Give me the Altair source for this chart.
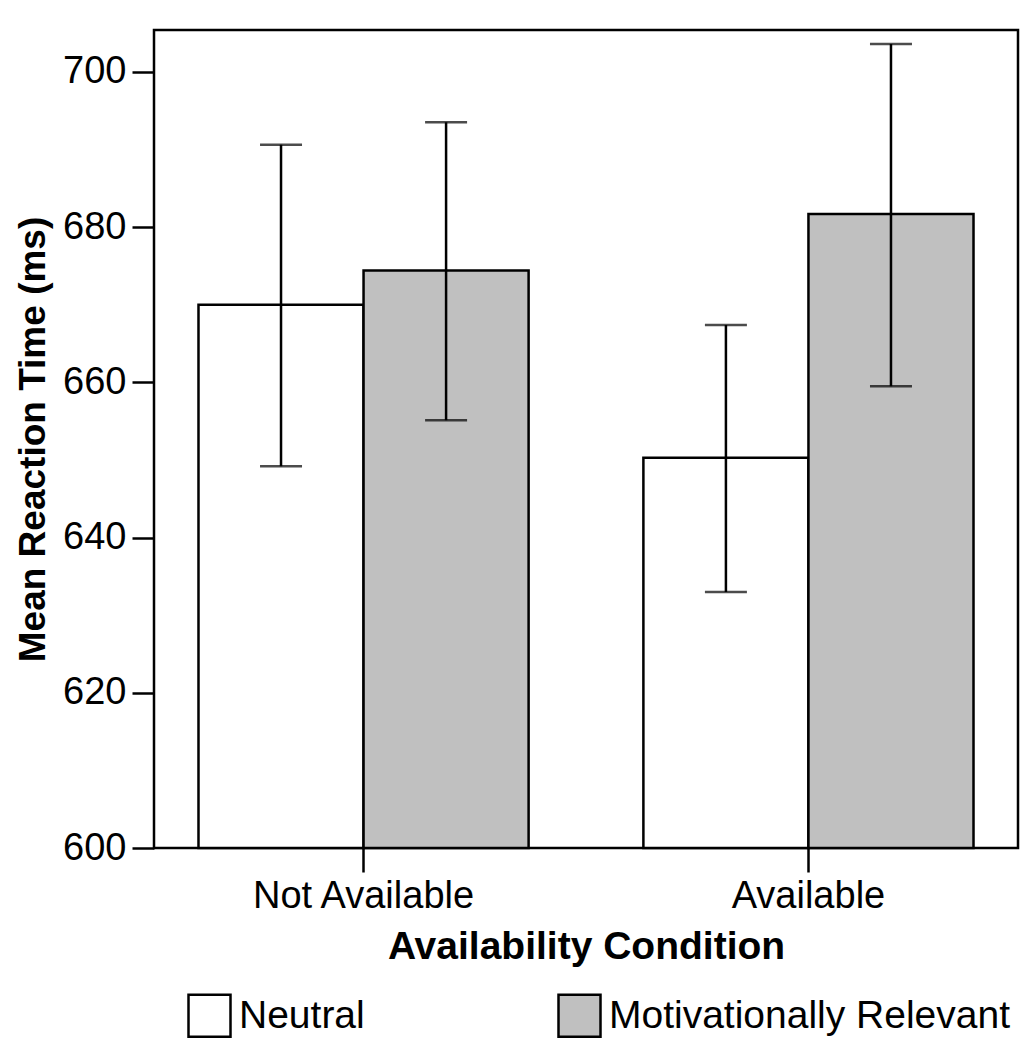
import altair as alt
import pandas as pd

conditions = ["Not Available", "Not Available", "Available", "Available"]
groups = ["Neutral", "Motivationally Relevant", "Neutral", "Motivationally Relevant"]
means = [670.0, 674.4, 650.3, 681.7]
lows = [649.2, 655.1, 633.0, 659.5]
highs = [690.6, 693.5, 667.4, 703.6]

cond_order = ["Not Available", "Available"]
group_order = ["Neutral", "Motivationally Relevant"]
fills = ["#ffffff", "#c0c0c0"]

df = pd.DataFrame({"cond": conditions, "group": groups, "mean": means, "lo": lows, "hi": highs})

FONT = "Liberation Sans"
LW = 2.5

x = alt.X("cond:N", sort=cond_order, title="Availability Condition",
          scale=alt.Scale(paddingInner=0.258, paddingOuter=0.1),
          axis=alt.Axis(labelAngle=0, labelFontSize=38, titleFontSize=39, titleFontWeight="bold",
                        tickSize=24, tickWidth=LW, labelPadding=5, titlePadding=12,
                        domain=False, labelLimit=0))
xo = alt.XOffset("group:N", sort=group_order, scale=alt.Scale(paddingInner=0, paddingOuter=0))
yscale = alt.Scale(domain=[600, 705.4], nice=False, zero=False)

bars = alt.Chart(df).mark_bar(stroke="black", strokeWidth=LW).encode(
    x=x,
    xOffset=xo,
    y=alt.Y("mean:Q", scale=yscale, title="Mean Reaction Time (ms)",
            axis=alt.Axis(values=[600, 620, 640, 660, 680, 700], labelFontSize=38, titleFontSize=37,
                          titleFontWeight="bold", tickSize=22, tickWidth=LW, labelPadding=6,
                          titlePadding=10, domain=False, grid=False, labelLimit=0)),
    y2=alt.datum(600),
    fill=alt.Fill("group:N", sort=group_order, scale=alt.Scale(domain=group_order, range=fills),
                  legend=alt.Legend(title=None, orient="none", direction="horizontal",
                                    legendX=33, legendY=963, symbolType="square", symbolSize=1764,
                                    symbolStrokeColor="black", symbolStrokeWidth=LW,
                                    labelFontSize=39, columnPadding=188, labelOffset=7,
                                    symbolOpacity=1, labelLimit=0)),
)

rules = alt.Chart(df).mark_rule(color="black", strokeWidth=LW).encode(
    x=alt.X("cond:N", sort=cond_order), xOffset=xo,
    y=alt.Y("lo:Q", scale=yscale), y2="hi:Q")

cap_lo = alt.Chart(df).mark_tick(color="black", thickness=LW, size=42, orient="horizontal").encode(
    x=alt.X("cond:N", sort=cond_order), xOffset=xo, y=alt.Y("lo:Q", scale=yscale))
cap_hi = alt.Chart(df).mark_tick(color="black", thickness=LW, size=42, orient="horizontal").encode(
    x=alt.X("cond:N", sort=cond_order), xOffset=xo, y=alt.Y("hi:Q", scale=yscale))

chart = alt.layer(bars, rules, cap_lo, cap_hi).properties(
    width=864, height=818,
    autosize=alt.AutoSizeParams(type="none"),
    padding={"left": 146, "top": 22, "right": 6, "bottom": 190},
).configure_view(stroke="black", strokeWidth=LW).configure_axis(
    labelFont=FONT, titleFont=FONT, labelColor="black", titleColor="black", tickColor="black",
).configure_legend(labelFont=FONT, labelColor="black")

chart.save("out.html", embed_options={"renderer": "svg", "actions": False})
